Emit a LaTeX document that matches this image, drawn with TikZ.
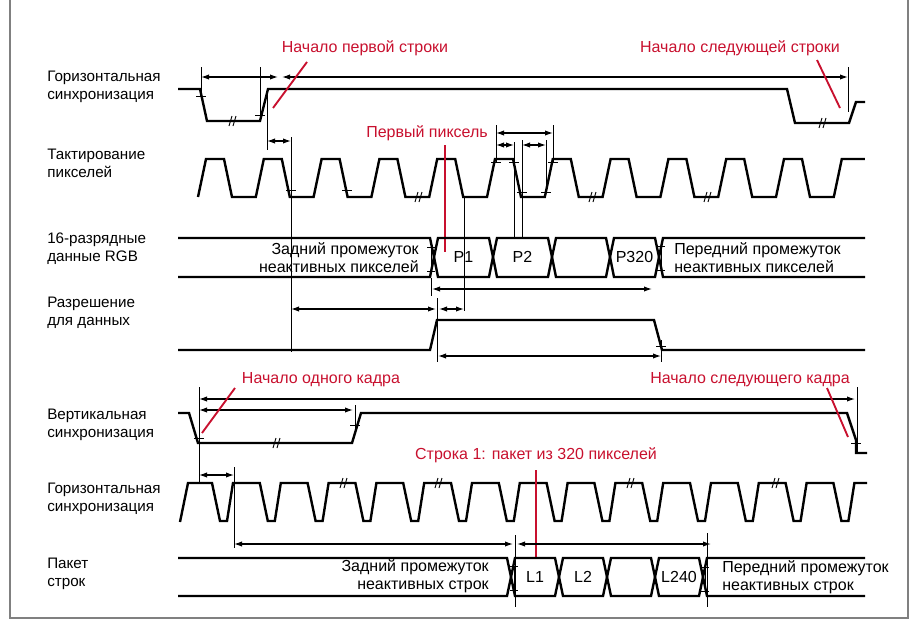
\documentclass[tikz,border=0pt]{standalone}
\usepackage{fontspec}
\setmainfont{Liberation Sans}
\usetikzlibrary{arrows.meta}
\definecolor{callred}{RGB}{200,16,46}

\begin{document}
\begin{tikzpicture}[x=0.75pt,y=-0.75pt,>={Latex[length=6pt,width=4pt]},
  sig/.style={line width=1.8pt},
  dim/.style={<->,line width=0.9pt},
  refl/.style={line width=0.6pt},
  redl/.style={callred,line width=1.4pt},
  lbl/.style={font=\fontsize{11.4}{13.5}\selectfont,align=left,anchor=west,inner sep=0pt},
  note/.style={font=\fontsize{12}{14}\selectfont,text=callred,inner sep=0pt},
  cell/.style={font=\fontsize{12}{13.5}\selectfont,inner sep=0pt},
  tk/.pic={\draw[line width=0.6pt] (-5,0) -- (5,0);},
  brk/.pic={\draw[line width=0.7pt] (-3,5) -- (0,-5) (1,5) -- (4,-5);},
  imk/.pic={\draw[line width=0.6pt] (-4,-12) -- (4,-12) (0,-12) -- (0,12) (-4,12) -- (4,12);}]
\useasboundingbox (0,0) rectangle (918,621);
\draw[gray,line width=0.8pt] (10,0) -- (10,618) -- (908,618) -- (908,0);

% signal names
\node[lbl] (hs) at (47,87) {Горизонтальная\\синхронизация};
\node[lbl] (pc) at (47,163) {Тактирование\\пикселей};
\node[lbl] (rgb) at (47,249) {16-разрядные\\данные RGB};
\node[lbl] (de) at (47,313) {Разрешение\\для данных};
\node[lbl] (vs) at (47,425) {Вертикальная\\синхронизация};
\node[lbl] (hs2) at (47,499) {Горизонтальная\\синхронизация};
\node[lbl] (pk) at (47,574) {Пакет\\строк};

% horizontal sync, one line
\draw[sig] (178,89) -- (200,89) -- (207,121) -- (260,121) -- (268,89) -- (787,89)
	-- (795,123) -- (849,123) -- (856,102) -- (865,102);
\draw[refl] (201,67) -- (201,100);
\draw[refl] (260,67) -- (260,121);
\draw[refl] (267,95) -- (267,150);
\draw[refl] (848,67) -- (848,112);
\pic at (201,96) {tk};
\pic at (260,115) {tk};
\pic at (232,121) {brk};
\pic at (822,123) {brk};
\draw[dim] (201,77) -- (278,77);
\draw[dim] (282,77) -- (848,77);
\node[note] (c1) at (365,48) {Начало первой строки};
\draw[redl] (307,62) -- (273,108);
\node[note] (c2) at (740,48) {Начало следующей строки};
\draw[redl] (817,60) -- (840,108);

% pixel clock
\draw[sig] (198,197) \foreach \k in {0,...,10} { -- ++(8,-38) -- ++(18,0) -- ++(8,38) -- ++(23.8,0) }
	-- ++(8,-38) -- ++(23,0);
\foreach \x in {418, 592, 707}
	\pic at (\x,197) {brk};
\foreach \x/\y in {291/190, 347/190, 496/162, 514/162, 522/192, 546/192, 553/162}
	\pic at (\x,\y) {tk};
\draw[refl] (291,137) -- (291,352);
\draw[refl] (464,197) -- (464,311);
\draw[refl] (496,125) -- (496,162);
\draw[refl] (514,142) -- (514,238);
\draw[refl] (522,140) -- (522,238);
\draw[refl] (546,140) -- (546,192);
\draw[refl] (553,125) -- (553,163);
\draw[dim] (267,141) -- (291,141);
\draw[dim] (496,133) -- (553,133);
\draw[dim] (496,145) -- (514,145);
\draw[dim] (522,145) -- (546,145);
\node[note] (c3) at (427,133) {Первый пиксель};
\draw[redl] (445,145) -- (445,252);

% RGB data
\draw[sig] (178,238) -- (430,238) -- (434,257) -- (430,277) -- (178,277);
\foreach \a/\b/\t [count=\i] in {434/493/P1, 493/552/P2, 552/610/{}, 610/659/P320} {
	\draw[sig] (\a,257) -- (\a+4,238) -- (\b-4,238) -- (\b,257) -- (\b-4,277) -- (\a+4,277) -- cycle;
	\node[cell] (p\i) at ({(\a+\b)/2},257) {\t};
}
\draw[sig] (865,238) -- (663,238) -- (659,257) -- (663,277) -- (865,277);
\pic at (431,259) {imk};
\pic at (661,258) {imk};
\node[cell,anchor=east,align=right] (bp) at (419,258) {Задний промежуток\\неактивных пикселей};
\node[cell,anchor=west,align=left] (fp) at (674,258) {Передний промежуток\\неактивных пикселей};

% data enable
\draw[sig] (178,350) -- (430,350) -- (437,320) -- (654,320) -- (662,350) -- (865,350);
\draw[refl] (431,278) -- (431,296);
\draw[refl] (437,298) -- (437,362);
\draw[refl] (661,340) -- (661,362);
\pic at (661,346) {tk};
\draw[dim] (432,289) -- (652,289);
\draw[dim] (291,309) -- (436,309);
\draw[dim] (439,309) -- (464,309);
\draw[dim] (438,356) -- (661,356);

% vertical sync
\draw[sig] (178,413) -- (189,413) -- (198,443) -- (352,443) -- (361,413) -- (847,413)
	-- (856,440) -- (856,453) -- (867,453);
\draw[refl] (199,387) -- (199,482);
\draw[refl] (355,405) -- (355,428);
\draw[refl] (857,387) -- (857,453);
\pic at (199,438) {tk};
\pic at (355,425) {tk};
\pic at (856,443) {tk};
\pic at (276,443) {brk};
\draw[dim] (199,399) -- (855,399);
\draw[dim] (199,410) -- (353,410);
\draw[dim] (199,475) -- (234,475);
\node[note] (c4) at (321,380) {Начало одного кадра};
\draw[redl] (235,388) -- (202,433);
\node[note] (c5) at (750,380) {Начало следующего кадра};
\draw[redl] (827,388) -- (848,437);

% horizontal sync, one frame
\draw[sig] (180,522) -- (188,483) -- (212,483) \foreach \k in {0,...,12} { -- ++(8,38) -- ++(7,0) -- ++(6,-38) -- ++(26.8,0) }
	-- ++(8,38) -- ++(7,0) -- ++(6,-38) -- ++(12.6,0);
\foreach \x in {343, 438, 630, 775}
	\pic at (\x,483) {brk};
\draw[refl] (234,467) -- (234,548);
\node[note] (c6) at (536,455) {Строка 1: пакет из 320 пикселей};
\draw[redl] (536,470) -- (536,558);

% line packet
\draw[sig] (178,558) -- (507,558) -- (511,577) -- (507,596) -- (178,596);
\foreach \a/\b/\t [count=\i] in {511/559/L1, 559/607/L2, 607/655/{}, 655/703/L240} {
	\draw[sig] (\a,577) -- (\a+4,558) -- (\b-4,558) -- (\b,577) -- (\b-4,596) -- (\a+4,596) -- cycle;
	\node[cell] (l\i) at ({(\a+\b)/2},577) {\t};
}
\draw[sig] (865,558) -- (707,558) -- (703,577) -- (707,596) -- (865,596);
\pic at (514,578) {imk};
\pic at (705,579) {imk};
\draw[refl] (515,535) -- (515,607);
\draw[refl] (707,533) -- (707,607);
\draw[dim] (234,544) -- (513,544);
\draw[dim] (517,544) -- (711,544);
\node[cell,anchor=east,align=right] (bl) at (489,576) {Задний промежуток\\неактивных строк};
\node[cell,anchor=west,align=left] (fl) at (722,577) {Передний промежуток\\неактивных строк};
\end{tikzpicture}
\end{document}
